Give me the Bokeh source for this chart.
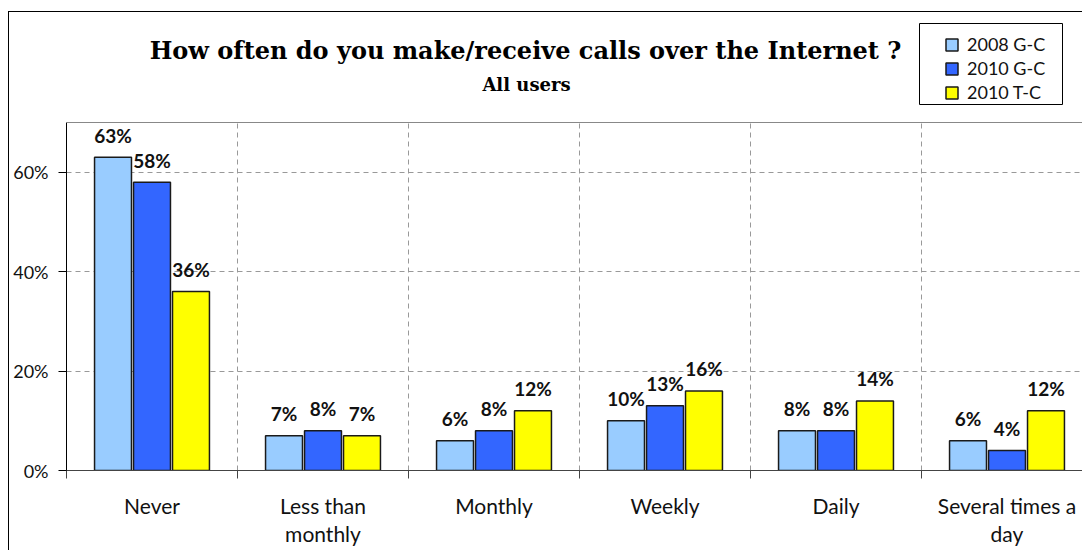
from bokeh.plotting import figure
from bokeh.models import (ColumnDataSource, Range1d, FixedTicker, Label, Span, BoxAnnotation,
                          LabelSet, Legend, LegendItem, PrintfTickFormatter)
from bokeh.core.properties import value
from bokeh.transform import dodge
from bokeh.embed import file_html
from bokeh.resources import INLINE

categories = ["Never", "Less than\nmonthly", "Monthly", "Weekly", "Daily", "Several times a\nday"]
series_names = ["2008 G-C", "2010 G-C", "2010 T-C"]
v2008_gc = [63, 7, 6, 10, 8, 6]
v2010_gc = [58, 8, 8, 13, 8, 4]
v2010_tc = [36, 7, 12, 16, 14, 12]
colors = ["#99CCFF", "#3366FF", "#FFFF00"]
y_ticks = [0, 20, 40, 60]
y_max = 70

centers = [i + 0.5 for i in range(len(categories))]
src = ColumnDataSource(dict(
    x=centers, a=v2008_gc, b=v2010_gc, c=v2010_tc,
    la=[f"{v}%" for v in v2008_gc], lb=[f"{v}%" for v in v2010_gc], lc=[f"{v}%" for v in v2010_tc],
))

W, H = 1074, 539
# frame: x 66..1083, y 12..470 (plot area 122..470 = 0..70)
px_per_unit = (470 - 122) / y_max
cat_px = 171
y_top = (470 - 12) / px_per_unit
p = figure(width=W, height=H, output_backend="svg", toolbar_location=None,
           x_range=Range1d(0, 1017 / cat_px), y_range=Range1d(0, y_top),
           min_border_left=57, min_border_right=0, min_border_top=0, min_border_bottom=81,
           background_fill_color="white", border_fill_color="white")
p.styles = {"margin-top": "11px", "margin-left": "8px",
            "border-left": "1px solid #000", "border-top": "1px solid #000"}
p.outline_line_color = None

def sx(px):  # page pixel -> data x
    return (px - 66) / cat_px

def sy(py):  # page pixel -> data y
    return (470 - py) / px_per_unit

bw = 0.216
off = 0.228
FONT = "Lato"
renderers = []
for key, col, d in zip(["a", "b", "c"], colors, [-off, 0, off]):
    r = p.vbar(x=dodge("x", d, range=p.x_range), top=key, width=bw, bottom=0, source=src,
               fill_color=col, line_color="#1a1a1a", line_width=1.5)
    renderers.append(r)
    ls = LabelSet(x=dodge("x", d, range=p.x_range), y=key, text="l" + key, source=src,
                  y_offset=22, text_align="center", text_baseline="middle",
                  text_font=value(FONT), text_font_style="bold", text_font_size="19px",
                  text_color="#111111")
    p.add_layout(ls)

# axes
p.xaxis.ticker = FixedTicker(ticks=centers, minor_ticks=list(range(0, len(categories) + 1)))
p.xaxis.major_label_overrides = {c: lab for c, lab in zip(centers, categories)}
p.xaxis.major_tick_line_color = None
p.xaxis.major_tick_out = 0
p.xaxis.minor_tick_out = 8
p.xaxis.minor_tick_in = 0
p.xaxis.minor_tick_line_color = "#444444"
p.xaxis.axis_line_color = "#444444"
p.xaxis.major_label_text_font = FONT
p.xaxis.major_label_text_font_size = "21px"
p.xaxis.major_label_text_color = "#111111"
p.xaxis.major_label_standoff = 14
p.xaxis.major_label_text_line_height = 1.12

p.yaxis.ticker = FixedTicker(ticks=y_ticks)
p.yaxis.bounds = (0, y_max)
p.yaxis.formatter = PrintfTickFormatter(format="%d%%")
p.yaxis.major_tick_out = 8
p.yaxis.major_tick_in = 0
p.yaxis.minor_tick_line_color = None
p.yaxis.axis_line_color = "#000000"
p.yaxis.major_tick_line_color = "#000000"
p.yaxis.major_label_text_font = FONT
p.yaxis.major_label_text_font_size = "18px"
p.yaxis.major_label_text_color = "#111111"
p.yaxis.major_label_standoff = 10

p.add_layout(Span(location=y_max, dimension="width", line_color="#888888", line_width=1))

p.xgrid.ticker = FixedTicker(ticks=[1, 2, 3, 4, 5])
p.xgrid.cross_bounds = (0, y_max)
p.xgrid.grid_line_color = "#999999"
p.xgrid.grid_line_dash = "5 4"
p.ygrid.ticker = FixedTicker(ticks=[20, 40, 60])
p.ygrid.grid_line_color = "#999999"
p.ygrid.grid_line_dash = "5 4"

# titles
p.add_layout(Label(x=sx(525), y=sy(50),
                   text="How often do you make/receive calls over the Internet ?",
                   text_align="center", text_baseline="middle", text_font="DejaVu Serif",
                   text_font_style="bold", text_font_size="24px", text_color="#000000"))
p.add_layout(Label(x=sx(526), y=sy(84), text="All users",
                   text_align="center", text_baseline="middle", text_font="DejaVu Serif",
                   text_font_style="bold", text_font_size="18px", text_color="#000000"))

# legend frame + legend
p.add_layout(BoxAnnotation(left=sx(919), right=sx(1062), bottom=sy(104), top=sy(23),
                           fill_color="white", fill_alpha=1.0, line_color="#000000",
                           line_width=1, line_alpha=1.0))
legend = Legend(items=[LegendItem(label=n, renderers=[r]) for n, r in zip(series_names, renderers)],
                location=(878, 367), orientation="vertical",
                glyph_width=15, glyph_height=15, label_height=17, spacing=2, padding=6,
                label_standoff=8,
                label_text_font=FONT, label_text_font_size="18px", label_text_color="#111111",
                border_line_color=None, background_fill_alpha=0.0, margin=0)
p.add_layout(legend)

open("out.html", "w").write(file_html(p, INLINE))
